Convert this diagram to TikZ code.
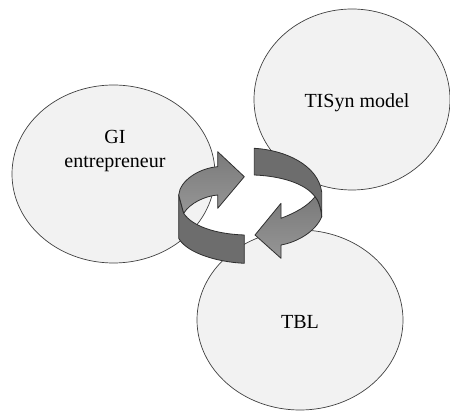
\documentclass[tikz,border=0pt]{standalone}
\usepackage{fontspec}
\setmainfont{Liberation Serif}
\usetikzlibrary{shapes.geometric}
\definecolor{ellfill}{HTML}{F2F2F2}
\definecolor{ellline}{HTML}{404040}
\definecolor{arrdark}{HTML}{6D6D6D}
\definecolor{arrlighttop}{HTML}{7A7A7A}
\definecolor{arrlightbot}{HTML}{969696}
\definecolor{arrline}{HTML}{2F2F2F}
\tikzset{
  blob/.style={ellipse, draw=ellline, fill=ellfill, line width=0.7pt, inner sep=0pt},
  lbl/.style={font=\fontsize{20}{24}\selectfont, anchor=base, inner sep=0pt, align=center},
  darkface/.style={fill=arrdark, draw=arrline, line width=0.8pt, line join=round},
  lightface/.style={top color=arrlighttop, bottom color=arrlightbot, draw=arrline, line width=0.8pt, line join=round},
}
\begin{document}
\begin{tikzpicture}[x=1pt,y=-1pt]
\useasboundingbox (0,0) rectangle (450,411);
% ellipses
\node[blob, minimum width=203pt, minimum height=178pt] (gi) at (113.5,174) {};
\node[blob, minimum width=196pt, minimum height=181pt] (tisyn) at (352,99.5) {};
\node[blob, minimum width=206pt, minimum height=180pt] (tbl) at (300,320) {};
% labels
\node[lbl] (gitext) at (115,167.7) {GI\\entrepreneur};
\node[lbl] (tisyntext) at (357,107.3) {TISyn model};
\node[lbl] (tbltext) at (300,328.3) {TBL};
% left circular arrow
\draw[darkface] (178.7,195) -- (178.7,238.3)
  .. controls (186,252) and (215,262) .. (244.3,263.3)
  -- (244.3,235)
  .. controls (215,234) and (192,226) .. (183.7,213.3) -- cycle;
\draw[lightface] (178.7,195)
  .. controls (180,180) and (200,168) .. (217.7,166.7)
  -- (217.7,151.7) -- (244.3,176.7) -- (217.7,208.3) -- (217.7,195)
  .. controls (205,196) and (190,203) .. (183.7,213.3) -- cycle;
% right circular arrow
\draw[darkface] (254.3,148.3)
  .. controls (285,150) and (318,165) .. (321.7,192)
  -- (321.7,216.7)
  .. controls (321,208) and (318,200) .. (315,196.7)
  .. controls (305,183) and (280,176) .. (254.3,175) -- cycle;
\draw[lightface] (281,218.3)
  .. controls (295,213) and (308,206) .. (315,196.7)
  .. controls (318,200) and (321,208) .. (321.7,216.7)
  .. controls (316,231) and (298,242) .. (281,245)
  -- (281,258.3) -- (255,235) -- (281,203.3) -- cycle;
\end{tikzpicture}
\end{document}
